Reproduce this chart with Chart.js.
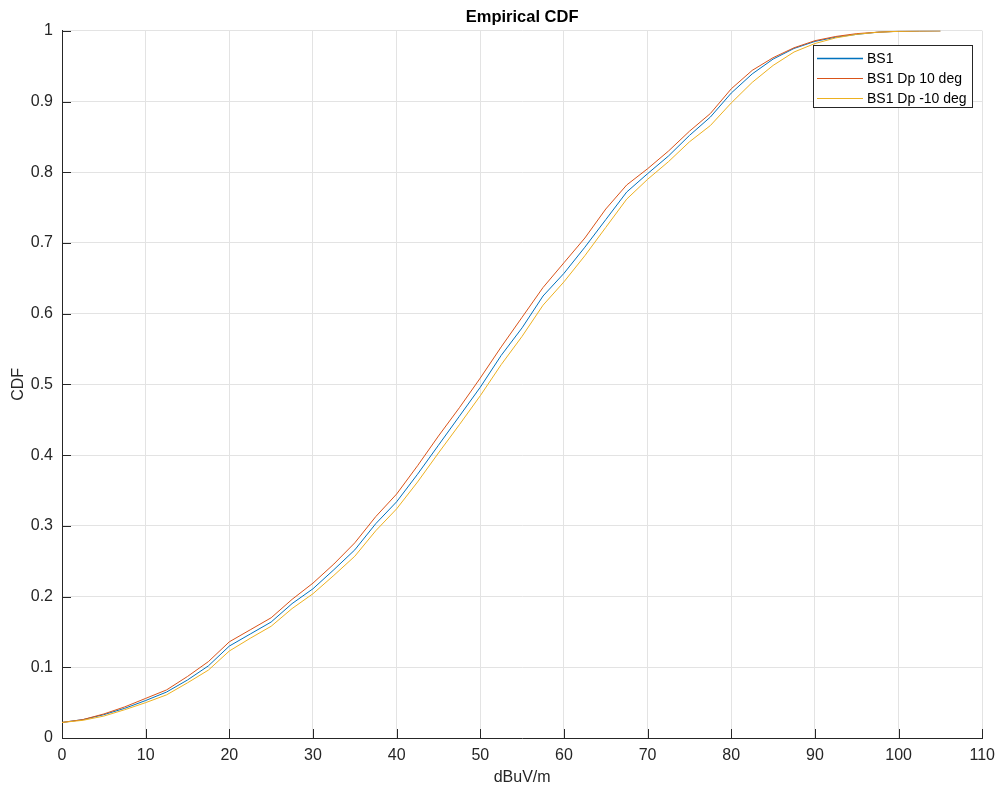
<!DOCTYPE html>
<html>
<head>
<meta charset="utf-8">
<script src="https://cdn.jsdelivr.net/npm/chart.js@4.4.1/dist/chart.umd.min.js"></script>
<style>
  html, body { margin: 0; padding: 0; background: #fff; }
  #wrap { width: 1003px; height: 787px; }
</style>
</head>
<body>
<div id="wrap"><canvas id="cdf" width="1003" height="787"></canvas></div>
<script>
// values
const xValues = [0, 2.5, 5, 7.5, 10, 12.5, 15, 17.5, 20, 22.5, 25, 27.5, 30, 32.5, 35, 37.5, 40, 42.5, 45, 47.5, 50, 52.5, 55, 57.5, 60, 62.5, 65, 67.5, 70, 72.5, 75, 77.5, 80, 82.5, 85, 87.5, 90, 92.5, 95, 97.5, 100, 102.5, 105];
const bs1 = [0.022, 0.026, 0.033, 0.042, 0.053, 0.065, 0.082, 0.102, 0.130, 0.147, 0.164, 0.190, 0.211, 0.238, 0.266, 0.303, 0.334, 0.373, 0.414, 0.455, 0.496, 0.541, 0.580, 0.625, 0.657, 0.694, 0.733, 0.772, 0.798, 0.823, 0.852, 0.878, 0.912, 0.939, 0.960, 0.975, 0.985, 0.991, 0.995, 0.998, 0.9993, 0.9998, 1.0];
const bs1Dp10 = [0.022, 0.026, 0.034, 0.044, 0.056, 0.068, 0.087, 0.108, 0.136, 0.153, 0.170, 0.196, 0.219, 0.246, 0.276, 0.313, 0.345, 0.385, 0.427, 0.467, 0.509, 0.553, 0.595, 0.637, 0.672, 0.707, 0.748, 0.782, 0.805, 0.830, 0.858, 0.883, 0.918, 0.944, 0.962, 0.976, 0.986, 0.992, 0.996, 0.998, 0.9994, 0.9998, 1.0];
const bs1DpMinus10 = [0.022, 0.025, 0.031, 0.040, 0.050, 0.061, 0.078, 0.096, 0.123, 0.141, 0.158, 0.183, 0.204, 0.230, 0.257, 0.293, 0.324, 0.362, 0.403, 0.443, 0.484, 0.528, 0.568, 0.612, 0.645, 0.682, 0.722, 0.762, 0.790, 0.815, 0.843, 0.866, 0.898, 0.927, 0.951, 0.970, 0.982, 0.990, 0.995, 0.998, 0.9992, 0.9998, 1.0];

const seriesNames = ["BS1", "BS1 Dp 10 deg", "BS1 Dp -10 deg"];
const xTicks = [0, 10, 20, 30, 40, 50, 60, 70, 80, 90, 100, 110];
const yTicks = [0, 0.1, 0.2, 0.3, 0.4, 0.5, 0.6, 0.7, 0.8, 0.9, 1];
const yTickLabels = ["0", "0.1", "0.2", "0.3", "0.4", "0.5", "0.6", "0.7", "0.8", "0.9", "1"];

const axisColor = "#262626";
const gridColor = "#e3e3e3";
const fontFamily = "'Liberation Sans', Arial, Helvetica, sans-serif";

function toPoints(ys) {
  return xValues.map((x, i) => ({ x: x, y: ys[i] }));
}

// MATLAB style: ticks point into the plot
const innerTicks = {
  id: "innerTicks",
  afterDatasetsDraw(chart) {
    const { ctx, chartArea, scales } = chart;
    ctx.save();
    ctx.strokeStyle = axisColor;
    ctx.lineWidth = 1;
    ctx.beginPath();
    xTicks.forEach(v => {
      const px = Math.round(scales.x.getPixelForValue(v)) + 0.5;
      ctx.moveTo(px, chartArea.bottom);
      ctx.lineTo(px, chartArea.bottom - 9);
    });
    yTicks.forEach(v => {
      const py = Math.round(scales.y.getPixelForValue(v)) + 0.5;
      ctx.moveTo(chartArea.left, py);
      ctx.lineTo(chartArea.left + 9, py);
    });
    ctx.stroke();
    ctx.restore();
  }
};

// boxed legend in the upper right of the axes
const boxLegend = {
  id: "boxLegend",
  afterDraw(chart) {
    const { ctx } = chart;
    const left = 813, top = 45, w = 159, h = 62;
    ctx.save();
    ctx.fillStyle = "#fff";
    ctx.fillRect(left, top, w, h);
    ctx.strokeStyle = axisColor;
    ctx.lineWidth = 1;
    ctx.strokeRect(left + 0.5, top + 0.5, w, h);
    ctx.font = "14px " + fontFamily;
    ctx.textBaseline = "middle";
    chart.data.datasets.forEach((ds, i) => {
      const y = top + 13.5 + i * 20;
      ctx.strokeStyle = ds.borderColor;
      ctx.lineWidth = i === 0 ? 1.5 : 1;
      ctx.beginPath();
      ctx.moveTo(left + 4, y);
      ctx.lineTo(left + 50, y);
      ctx.stroke();
      ctx.fillStyle = "#000";
      ctx.fillText(ds.label, left + 54, y + 1);
    });
    ctx.restore();
  }
};

new Chart(document.getElementById("cdf"), {
  type: "line",
  data: {
    datasets: [
      { label: seriesNames[0], data: toPoints(bs1), borderColor: "#0072BD", borderWidth: 1, order: 2 },
      { label: seriesNames[1], data: toPoints(bs1Dp10), borderColor: "#D95319", borderWidth: 1, order: 1 },
      { label: seriesNames[2], data: toPoints(bs1DpMinus10), borderColor: "#EDB120", borderWidth: 1, order: 0 }
    ]
  },
  options: {
    responsive: false,
    animation: false,
    devicePixelRatio: 1,
    layout: { padding: { left: 0, right: 17, top: 0, bottom: 0 } },
    elements: { point: { radius: 0 }, line: { tension: 0 } },
    plugins: {
      legend: { display: false },
      tooltip: { enabled: false },
      title: {
        display: true,
        fullSize: false,
        text: "Empirical CDF",
        color: "#000",
        font: { family: fontFamily, size: 16.5, weight: "bold" },
        padding: { top: 8, bottom: 3 }
      }
    },
    scales: {
      x: {
        type: "linear",
        min: 0,
        max: 110,
        afterBuildTicks: s => { s.ticks = xTicks.map(v => ({ value: v })); },
        afterFit: s => { s.height = 49; },
        grid: { color: gridColor, drawTicks: false },
        border: { color: axisColor, width: 1 },
        ticks: {
          color: axisColor,
          padding: 8,
          maxRotation: 0,
          font: { family: fontFamily, size: 16 }
        },
        title: {
          display: true,
          text: "dBuV/m",
          color: axisColor,
          font: { family: fontFamily, size: 16 },
          padding: { top: 0, bottom: 0 }
        }
      },
      y: {
        type: "linear",
        min: 0,
        max: 1,
        afterBuildTicks: s => { s.ticks = yTicks.map(v => ({ value: v })); },
        afterFit: s => { s.width = 62; },
        grid: { color: gridColor, drawTicks: false },
        border: { color: axisColor, width: 1 },
        ticks: {
          color: axisColor,
          padding: 9,
          font: { family: fontFamily, size: 16 },
          callback: (v, i) => yTickLabels[i]
        },
        title: {
          display: true,
          text: "CDF",
          color: axisColor,
          font: { family: fontFamily, size: 16 },
          padding: { top: 9, bottom: 0 }
        }
      }
    }
  },
  plugins: [innerTicks, boxLegend]
});
</script>
</body>
</html>
